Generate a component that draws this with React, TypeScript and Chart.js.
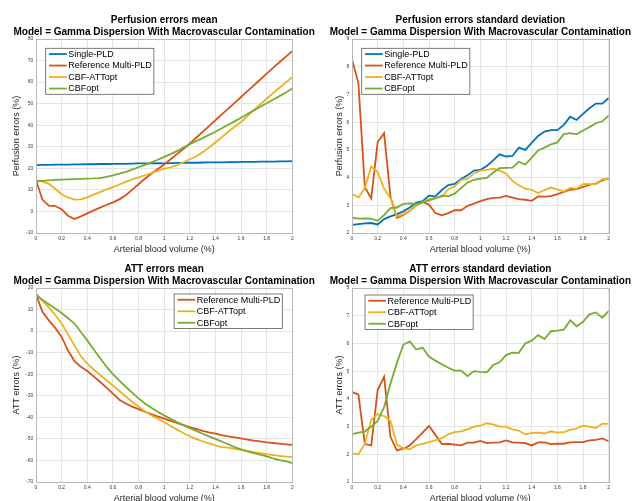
import React, { useEffect, useRef } from "react";
import { Chart, registerables } from "chart.js";

Chart.register(...registerables);

// Arterial blood volume sample points (%)
const ABV = [
  0, 0.05, 0.1, 0.15, 0.2, 0.25, 0.3, 0.35, 0.4, 0.45, 0.5, 0.55, 0.6, 0.65, 0.7, 0.75, 0.8, 0.85, 0.9, 0.95, 1,
  1.05, 1.1, 1.15, 1.2, 1.25, 1.3, 1.35, 1.4, 1.45, 1.5, 1.55, 1.6, 1.65, 1.7, 1.75, 1.8, 1.85, 1.9, 1.95, 2,
];

const X_TICKS = [0, 0.2, 0.4, 0.6, 0.8, 1, 1.2, 1.4, 1.6, 1.8, 2];
const PERF_MEAN_TICKS = [-10, 0, 10, 20, 30, 40, 50, 60, 70, 80];
const PERF_SD_TICKS = [2, 3, 4, 5, 6, 7, 8, 9];
const ATT_MEAN_TICKS = [-70, -60, -50, -40, -30, -20, -10, 0, 10, 20];
const ATT_SD_TICKS = [1, 2, 3, 4, 5, 6, 7, 8];

// Perfusion errors mean (%)
const perfMeanSingle = [
  21.5, 21.6, 21.6, 21.7, 21.7, 21.7, 21.8, 21.8, 21.9, 21.9, 22.0, 22.0, 22.1, 22.1, 22.1, 22.2, 22.3, 22.3, 22.3,
  22.4, 22.3, 22.4, 22.5, 22.5, 22.6, 22.6, 22.7, 22.8, 22.8, 22.8, 22.9, 22.9, 23.0, 23.0, 23.0, 23.1, 23.1, 23.1,
  23.2, 23.2, 23.3,
];
const perfMeanRef = [
  14.5, 5.5, 2.7, 2.5, 1.0, -2.0, -3.5, -2.3, -0.9, 0.5, 1.8, 3.0, 4.2, 5.6, 7.5, 10.0, 12.6, 15.2, 17.5, 19.7, 21.8,
  24.2, 26.6, 29.0, 31.5, 34.2, 36.9, 39.6, 42.3, 45.0, 47.7, 50.4, 53.1, 55.8, 58.5, 61.2, 63.9, 66.6, 69.2, 71.8,
  74.4,
];
const perfMeanCbfAtt = [
  14.5, 13.8, 12.8, 10.5, 8.0, 6.5, 5.5, 5.6, 6.5, 7.8, 9.0, 10.2, 11.3, 12.5, 13.7, 14.9, 15.8, 16.8, 17.8, 18.8,
  19.7, 20.5, 21.5, 22.8, 24.2, 25.5, 27.5, 29.7, 32.0, 34.5, 37.0, 39.3, 41.5, 44.2, 47.0, 49.7, 52.3, 54.9, 57.4,
  59.9, 62.3,
];
const perfMeanCbf = [
  14.0, 14.2, 14.4, 14.6, 14.8, 14.9, 15.0, 15.1, 15.2, 15.3, 15.5, 16.0, 16.7, 17.5, 18.4, 19.4, 20.5, 21.6, 22.8,
  24.0, 25.3, 26.6, 28.0, 29.6, 31.2, 32.6, 34.0, 35.5, 37.0, 38.6, 40.2, 41.8, 43.5, 45.2, 46.9, 48.6, 50.2, 51.8,
  53.5, 55.2, 57.0,
];

// Perfusion errors standard deviation (%)
const perfSdSingle = [
  2.29, 2.32, 2.35, 2.36, 2.31, 2.5, 2.6, 2.68, 2.78, 2.92, 3.1, 3.15, 3.35, 3.32, 3.55, 3.73, 3.77, 3.95, 4.08, 4.25,
  4.28, 4.42, 4.62, 4.84, 4.76, 4.78, 5.08, 5.0, 5.25, 5.5, 5.66, 5.71, 5.71, 5.9, 6.2, 6.08, 6.3, 6.5, 6.67, 6.67,
  6.87,
];
const perfSdRef = [
  8.27, 7.4, 3.65, 3.25, 5.28, 5.6, 3.3, 2.55, 2.65, 2.8, 3.0, 3.12, 3.02, 2.72, 2.64, 2.72, 2.82, 2.82, 2.98, 3.06,
  3.15, 3.22, 3.27, 3.28, 3.34, 3.28, 3.22, 3.2, 3.16, 3.32, 3.31, 3.33, 3.4, 3.48, 3.56, 3.58, 3.66, 3.74, 3.78, 3.9,
  3.97,
];
const perfSdCbfAtt = [
  3.42, 3.28, 3.62, 4.4, 4.2, 3.6, 3.25, 2.6, 2.68, 2.8, 2.98, 3.12, 3.22, 3.28, 3.3, 3.58, 3.68, 3.92, 3.95, 4.15,
  4.25, 4.28, 4.32, 4.25, 4.15, 3.88, 3.72, 3.6, 3.56, 3.44, 3.55, 3.64, 3.57, 3.5, 3.63, 3.6, 3.76, 3.76, 3.76, 3.94,
  3.95,
];
const perfSdCbf = [
  2.55, 2.52, 2.53, 2.52, 2.44, 2.65, 2.9, 2.92, 3.05, 3.07, 3.05, 3.1, 3.18, 3.25, 3.35, 3.32, 3.42, 3.62, 3.82, 3.92,
  3.96, 3.99, 4.18, 4.34, 4.35, 4.36, 4.57, 4.47, 4.72, 4.98, 5.08, 5.2, 5.27, 5.57, 5.6, 5.56, 5.7, 5.82, 5.96, 6.03,
  6.23,
];

// ATT errors mean (%)
const attMeanRef = [
  17, 9, 5, 1.5, -2.7, -9, -13.9, -16.5, -18.5, -21, -23.5, -26.2, -29, -31.8, -33.6, -35, -36.2, -37.4, -38.5, -39.6,
  -40.6, -41.6, -42.6, -43.6, -44.5, -45.4, -46.3, -47, -47.6, -48.2, -48.8, -49.3, -49.8, -50.3, -50.8, -51.2, -51.6,
  -51.9, -52.2, -52.5, -52.8,
];
const attMeanCbfAtt = [
  17, 14, 11, 7.5, 3.5, -1.5, -6.6, -11.7, -15.1, -17.8, -20.3, -22.8, -25.2, -27.8, -30.3, -32.8, -35.1, -37.2, -39,
  -40.6, -42.2, -44, -45.7, -47.3, -48.8, -50.1, -51.1, -52.1, -53, -53.8, -54.1, -54.6, -55.1, -55.6, -56.1, -56.6,
  -57.1, -57.5, -57.9, -58.2, -58.5,
];
const attMeanCbf = [
  17, 14.5, 12.5, 10.5, 8.4, 6, 3.5, -0.4, -4.3, -8.5, -12.5, -16.5, -20, -23, -25.8, -28.5, -31.2, -33.6, -35.6,
  -37.4, -39.1, -40.7, -42.2, -43.6, -45, -46.3, -47.6, -48.8, -50, -51.2, -52.5, -53.8, -54.9, -55.8, -56.6, -57.3,
  -58.1, -59, -59.8, -60.3, -61.2,
];

// ATT errors standard deviation (%)
const attSdRef = [
  4.25, 4.15, 2.37, 2.32, 4.32, 4.8, 2.62, 2.14, 2.2, 2.32, 2.55, 2.78, 3.02, 2.7, 2.37, 2.38, 2.35, 2.32, 2.42, 2.42,
  2.48, 2.4, 2.42, 2.43, 2.5, 2.43, 2.42, 2.4, 2.32, 2.43, 2.43, 2.37, 2.38, 2.38, 2.43, 2.44, 2.44, 2.5, 2.52, 2.57,
  2.47,
];
const attSdCbfAtt = [
  2.03, 2.0, 2.38, 3.25, 3.45, 3.38, 3.2, 2.35, 2.22, 2.18, 2.32, 2.38, 2.44, 2.5, 2.58, 2.72, 2.8, 2.83, 2.9, 3.0,
  3.03, 3.12, 3.08, 3.0, 3.0, 2.9, 2.85, 2.72, 2.77, 2.78, 2.75, 2.83, 2.78, 2.8, 2.88, 2.93, 3.03, 3.0, 2.95, 3.1, 3.1,
];
const attSdCbf = [
  2.73, 2.78, 2.82, 3.0, 3.2, 3.7, 4.55, 5.3, 5.95, 6.07, 5.78, 5.85, 5.52, 5.38, 5.25, 5.12, 5.02, 5.02, 4.82, 5.0,
  4.97, 4.96, 5.22, 5.32, 5.58, 5.67, 5.66, 6.0, 6.1, 6.3, 6.16, 6.44, 6.46, 6.5, 6.83, 6.62, 6.78, 7.05, 7.12, 6.93,
  7.17,
];

const SUBTITLE = "Model = Gamma Dispersion With Macrovascular Contamination";
const X_LABEL = "Arterial blood volume (%)";

const BLUE = "#0072BD";
const ORANGE = "#D95319";
const YELLOW = "#EDB120";
const GREEN = "#77AC30";

const FONT = '"Liberation Sans", Arial, Helvetica, sans-serif';
const GRID = "#e4e4e4";
const FRAME = "#b8b8b8";
const TICK_COLOR = "#3a3a3a";
const LABEL_COLOR = "#262626";
const LINE_W = 1.8;

type Series = { label: string; color: string; data: number[] };
type PanelSpec = {
  key: string;
  title: string;
  yLabel: string;
  yTicks: number[];
  series: Series[];
  left: number;
  top: number;
  padRight: number;
  yTitlePad: number;
  legend: { side: "left" | "right"; dx: number; dy: number };
};

const PANELS: PanelSpec[] = [
  {
    key: "pm",
    title: "Perfusion errors mean",
    yLabel: "Perfusion errors (%)",
    yTicks: PERF_MEAN_TICKS,
    series: [
      { label: "Single-PLD", color: BLUE, data: perfMeanSingle },
      { label: "Reference Multi-PLD", color: ORANGE, data: perfMeanRef },
      { label: "CBF-ATTopt", color: YELLOW, data: perfMeanCbfAtt },
      { label: "CBFopt", color: GREEN, data: perfMeanCbf },
    ],
    left: 0,
    top: 0,
    padRight: 27.7,
    yTitlePad: 11.2,
    legend: { side: "left", dx: 9.7, dy: 9.3 },
  },
  {
    key: "ps",
    title: "Perfusion errors standard deviation",
    yLabel: "Perfusion errors (%)",
    yTicks: PERF_SD_TICKS,
    series: [
      { label: "Single-PLD", color: BLUE, data: perfSdSingle },
      { label: "Reference Multi-PLD", color: ORANGE, data: perfSdRef },
      { label: "CBF-ATTopt", color: YELLOW, data: perfSdCbfAtt },
      { label: "CBFopt", color: GREEN, data: perfSdCbf },
    ],
    left: 316,
    top: 0,
    padRight: 27.3,
    yTitlePad: 18.5,
    legend: { side: "left", dx: 9.7, dy: 9.3 },
  },
  {
    key: "am",
    title: "ATT errors mean",
    yLabel: "ATT errors (%)",
    yTicks: ATT_MEAN_TICKS,
    series: [
      { label: "Reference Multi-PLD", color: ORANGE, data: attMeanRef },
      { label: "CBF-ATTopt", color: YELLOW, data: attMeanCbfAtt },
      { label: "CBFopt", color: GREEN, data: attMeanCbf },
    ],
    left: 0,
    top: 249,
    padRight: 27.7,
    yTitlePad: 11.2,
    legend: { side: "right", dx: 10, dy: 6 },
  },
  {
    key: "as",
    title: "ATT errors standard deviation",
    yLabel: "ATT errors (%)",
    yTicks: ATT_SD_TICKS,
    series: [
      { label: "Reference Multi-PLD", color: ORANGE, data: attSdRef },
      { label: "CBF-ATTopt", color: YELLOW, data: attSdCbfAtt },
      { label: "CBFopt", color: GREEN, data: attSdCbf },
    ],
    left: 316,
    top: 249,
    padRight: 27.3,
    yTitlePad: 18.5,
    legend: { side: "left", dx: 13, dy: 7 },
  },
];

const CANVAS_W = 320;
const CANVAS_H = 257;
const PLOT_TOP = 39;
const Y_AXIS_W = 36;
const X_AXIS_H = 24;

// Draws the two-line title, the axes frame and the boxed legend.
function decorations(panel: PanelSpec) {
  return {
    id: "decorations-" + panel.key,
    afterDraw(chart: Chart) {
      const { ctx, chartArea } = chart;
      const { left, right, top, bottom } = chartArea;
      ctx.save();

      // axes frame
      ctx.strokeStyle = FRAME;
      ctx.lineWidth = 1;
      ctx.strokeRect(Math.round(left) + 0.5, Math.round(top) + 0.5, Math.round(right - left), Math.round(bottom - top));

      // title
      const cx = (left + right) / 2;
      ctx.fillStyle = "#000";
      ctx.font = `bold 10px ${FONT}`;
      ctx.textAlign = "center";
      ctx.textBaseline = "alphabetic";
      ctx.fillText(panel.title, cx, 22.5);
      ctx.fillText(SUBTITLE, cx, 35);

      // legend
      ctx.font = `9px ${FONT}`;
      const rowH = 11.5;
      const textW = Math.max(...panel.series.map((s) => ctx.measureText(s.label).width));
      const boxW = 22.6 + textW + 2;
      const boxH = rowH * panel.series.length;
      const bx = panel.legend.side === "left" ? left + panel.legend.dx : right - panel.legend.dx - boxW;
      const by = top + panel.legend.dy;
      ctx.fillStyle = "#fff";
      ctx.fillRect(bx, by, boxW, boxH);
      ctx.strokeStyle = "#5a5a5a";
      ctx.lineWidth = 0.8;
      ctx.strokeRect(bx, by, boxW, boxH);
      ctx.textAlign = "left";
      ctx.textBaseline = "middle";
      panel.series.forEach((s, i) => {
        const cy = by + rowH * (i + 0.5);
        ctx.strokeStyle = s.color;
        ctx.lineWidth = LINE_W;
        ctx.beginPath();
        ctx.moveTo(bx + 3.3, cy);
        ctx.lineTo(bx + 21, cy);
        ctx.stroke();
        ctx.fillStyle = "#000";
        ctx.fillText(s.label, bx + 22.6, cy + 0.3);
      });

      ctx.restore();
    },
  };
}

function PanelChart({ panel }: { panel: PanelSpec }) {
  const ref = useRef<HTMLCanvasElement | null>(null);

  useEffect(() => {
    if (!ref.current) return;
    const n = panel.series.length;
    const yTicks = panel.yTicks;
    const chart = new Chart(ref.current, {
      type: "line",
      data: {
        datasets: panel.series.map((s, i) => ({
          label: s.label,
          data: ABV.map((x, j) => ({ x, y: s.data[j] })),
          borderColor: s.color,
          backgroundColor: s.color,
          borderWidth: LINE_W,
          pointRadius: 0,
          tension: 0,
          fill: false,
          order: n - i,
        })),
      },
      options: {
        responsive: false,
        animation: false,
        devicePixelRatio: 1,
        events: [],
        layout: { padding: { top: PLOT_TOP, left: 0, right: panel.padRight, bottom: 0 } },
        plugins: {
          legend: { display: false },
          title: { display: false },
          tooltip: { enabled: false },
        },
        scales: {
          x: {
            type: "linear",
            min: X_TICKS[0],
            max: X_TICKS[X_TICKS.length - 1],
            afterBuildTicks: (scale: any) => {
              scale.ticks = X_TICKS.map((v) => ({ value: v }));
            },
            afterFit: (scale: any) => {
              scale.height = X_AXIS_H;
            },
            grid: { color: GRID, lineWidth: 1, drawTicks: false },
            border: { display: false },
            ticks: {
              padding: 3,
              color: TICK_COLOR,
              font: { size: 5, family: FONT },
              maxRotation: 0,
              autoSkip: false,
              callback: (v: any) => String(v),
            },
            title: {
              display: true,
              text: X_LABEL,
              color: LABEL_COLOR,
              font: { size: 9, family: FONT },
              padding: { top: 0, bottom: 2.3 },
            },
          },
          y: {
            type: "linear",
            min: yTicks[0],
            max: yTicks[yTicks.length - 1],
            afterBuildTicks: (scale: any) => {
              scale.ticks = yTicks.map((v) => ({ value: v }));
            },
            afterFit: (scale: any) => {
              scale.width = Y_AXIS_W;
            },
            grid: { color: GRID, lineWidth: 1, drawTicks: false },
            border: { display: false },
            ticks: {
              padding: 2.7,
              color: TICK_COLOR,
              font: { size: 5, family: FONT },
              autoSkip: false,
              callback: (v: any) => String(v),
            },
            title: {
              display: true,
              text: panel.yLabel,
              color: LABEL_COLOR,
              font: { size: 9, family: FONT },
              padding: { top: panel.yTitlePad, bottom: 0 },
            },
          },
        },
      } as any,
      plugins: [decorations(panel)],
    });
    return () => chart.destroy();
  }, [panel]);

  return (
    <canvas
      ref={ref}
      width={CANVAS_W}
      height={CANVAS_H}
      style={{
        position: "absolute",
        left: panel.left,
        top: panel.top,
        width: CANVAS_W,
        height: CANVAS_H,
      }}
    />
  );
}

export default function App() {
  return (
    <div
      style={{
        position: "absolute",
        left: 0,
        top: 0,
        width: 639,
        height: 501,
        overflow: "hidden",
        background: "#fff",
      }}
    >
      {PANELS.map((p) => (
        <PanelChart key={p.key} panel={p} />
      ))}
    </div>
  );
}
